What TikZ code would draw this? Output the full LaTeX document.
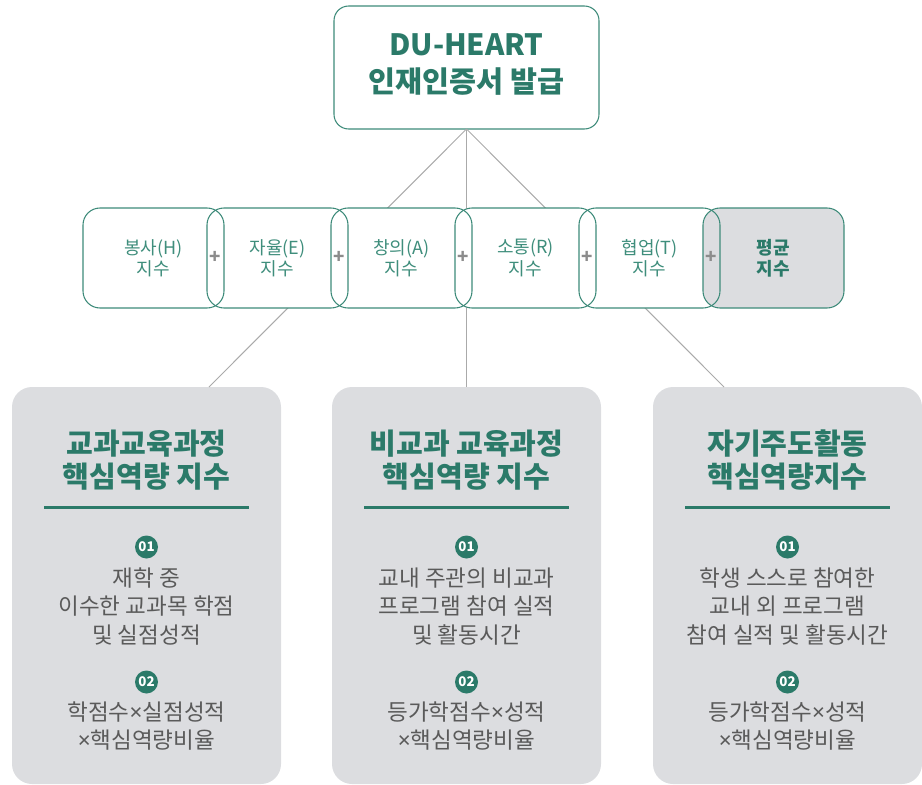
\documentclass[tikz,border=0pt]{standalone}
\usepackage{fontspec}
\setmainfont{Noto Sans CJK KR}
\newfontfamily\latinfont{Noto Sans}
\newcommand{\tms}{{\latinfont ×}}
\usetikzlibrary{calc}
\definecolor{teal1}{HTML}{2B7A69}
\definecolor{tealline}{HTML}{3E8B7A}
\definecolor{tealtext}{HTML}{3F8E7C}
\definecolor{cardgray}{HTML}{DCDDE0}
\definecolor{bodygray}{HTML}{5A5A5A}
\definecolor{linegray}{HTML}{AAAAAA}
\definecolor{plusgray}{HTML}{8C8C8C}
\begin{document}
\begin{tikzpicture}[x=0.75pt,y=-0.75pt,
  conn/.style={draw=linegray, line width=0.75pt},
  rowfill/.style={fill=white, minimum width=105.75pt, minimum height=75pt, inner sep=0pt, outer sep=0pt, rounded corners=12.75pt, text=tealtext, align=center, font=\fontsize{13.5pt}{16pt}\selectfont},
  rowline/.style={draw=tealline, line width=0.8pt, rounded corners=12.75pt},
  plus/.style={text=plusgray, font=\fontsize{14pt}{14pt}\selectfont\bfseries, inner sep=0pt},
  topbox/.style={draw=tealline, fill=white, line width=0.8pt, rounded corners=11pt, minimum width=198.75pt, minimum height=92.25pt, inner sep=0pt, outer sep=0pt},
  toptext/.style={text=teal1, align=center, font=\fontsize{22pt}{28pt}\selectfont\bfseries, inner sep=0pt},
  card/.style={fill=cardgray, rounded corners=15pt, minimum width=201.75pt, minimum height=297.75pt, inner sep=0pt, outer sep=0pt},
  cardtitle/.style={text=teal1, align=center, font=\fontsize{21.8pt}{24.5pt}\selectfont\bfseries, inner sep=0pt},
  rulebar/.style={draw=teal1, line width=2.25pt},
  num/.style={circle, fill=teal1, minimum size=17.25pt, inner sep=0pt, text=white, font=\fontsize{10pt}{10pt}\selectfont\bfseries},
  body/.style={text=bodygray, align=center, font=\fontsize{16.9pt}{21.4pt}\selectfont, inner sep=0pt},
]
\useasboundingbox (0,0) rectangle (922,785);
% top box
\node[topbox] (top) at (466.5,67.5) {};
\node[toptext] (toptxt) at (466.5,64.5) {DU-HEART\\인재인증서 발급};
% cards
\node[card] (c1) at (146.5,585.5) {};
\node[card] (c2) at (466.5,585.5) {};
\node[card] (c3) at (787.5,585.5) {};
\coordinate (e1) at (209,387);
\coordinate (e3) at (724,387);
% connectors
\draw[conn] (top.south) -- (e1);
\draw[conn] (top.south) -- (c2.north);
\draw[conn] (top.south) -- (e3);
% row boxes (fills)
\node[rowfill] (b1) at (153.5,258) {봉사(H)\\지수};
\node[rowfill] (b2) at (277.5,258) {자율(E)\\지수};
\node[rowfill] (b3) at (401.5,258) {창의(A)\\지수};
\node[rowfill] (b4) at (525.5,258) {소통(R)\\지수};
\node[rowfill] (b5) at (649.5,258) {협업(T)\\지수};
\node[rowfill, fill=cardgray, text=teal1, font=\fontsize{13.5pt}{16pt}\selectfont\bfseries] (b6) at (773.5,258) {평균\\지수};
% row box outlines
\foreach \b in {b1,b2,b3,b4,b5,b6}
  \draw[rowline] (\b.north west) rectangle (\b.south east);
% plus signs
\node[plus] (p1) at (215.5,257) {+};
\node[plus] (p2) at (339.5,257) {+};
\node[plus] (p3) at (463.5,257) {+};
\node[plus] (p4) at (587.5,257) {+};
\node[plus] (p5) at (711.5,257) {+};
% card 1
\node[cardtitle] (t1) at (146.5,460) {교과교육과정\\핵심역량 지수};
\draw[rulebar] ($(c1.north)+(-102.5,120)$) coordinate (r1a) -- ($(c1.north)+(102.5,120)$) coordinate (r1b);
\node[num] (n11) at (146.5,547) {01};
\node[body] (d11) at (146.5,606.5) {재학 중\\이수한 교과목 학점\\및 실점성적};
\node[num] (n12) at (146.5,682) {02};
\node[body] (d12) at (146.5,726) {학점수\tms 실점성적\\\tms 핵심역량비율};
% card 2
\node[cardtitle] (t2) at (466.5,460) {비교과 교육과정\\핵심역량 지수};
\draw[rulebar] ($(c2.north)+(-102.5,120)$) coordinate (r2a) -- ($(c2.north)+(102.5,120)$) coordinate (r2b);
\node[num] (n21) at (466.5,547) {01};
\node[body] (d21) at (466.5,606.5) {교내 주관의 비교과\\프로그램 참여 실적\\및 활동시간};
\node[num] (n22) at (466.5,682) {02};
\node[body] (d22) at (466.5,726) {등가학점수\tms 성적\\\tms 핵심역량비율};
% card 3
\node[cardtitle] (t3) at (787.5,460) {자기주도활동\\핵심역량지수};
\draw[rulebar] ($(c3.north)+(-102.5,120)$) coordinate (r3a) -- ($(c3.north)+(102.5,120)$) coordinate (r3b);
\node[num] (n31) at (787.5,547) {01};
\node[body] (d31) at (787.5,606.5) {학생 스스로 참여한\\교내 외 프로그램\\참여 실적 및 활동시간};
\node[num] (n32) at (787.5,682) {02};
\node[body] (d32) at (787.5,726) {등가학점수\tms 성적\\\tms 핵심역량비율};
\end{tikzpicture}
\end{document}
